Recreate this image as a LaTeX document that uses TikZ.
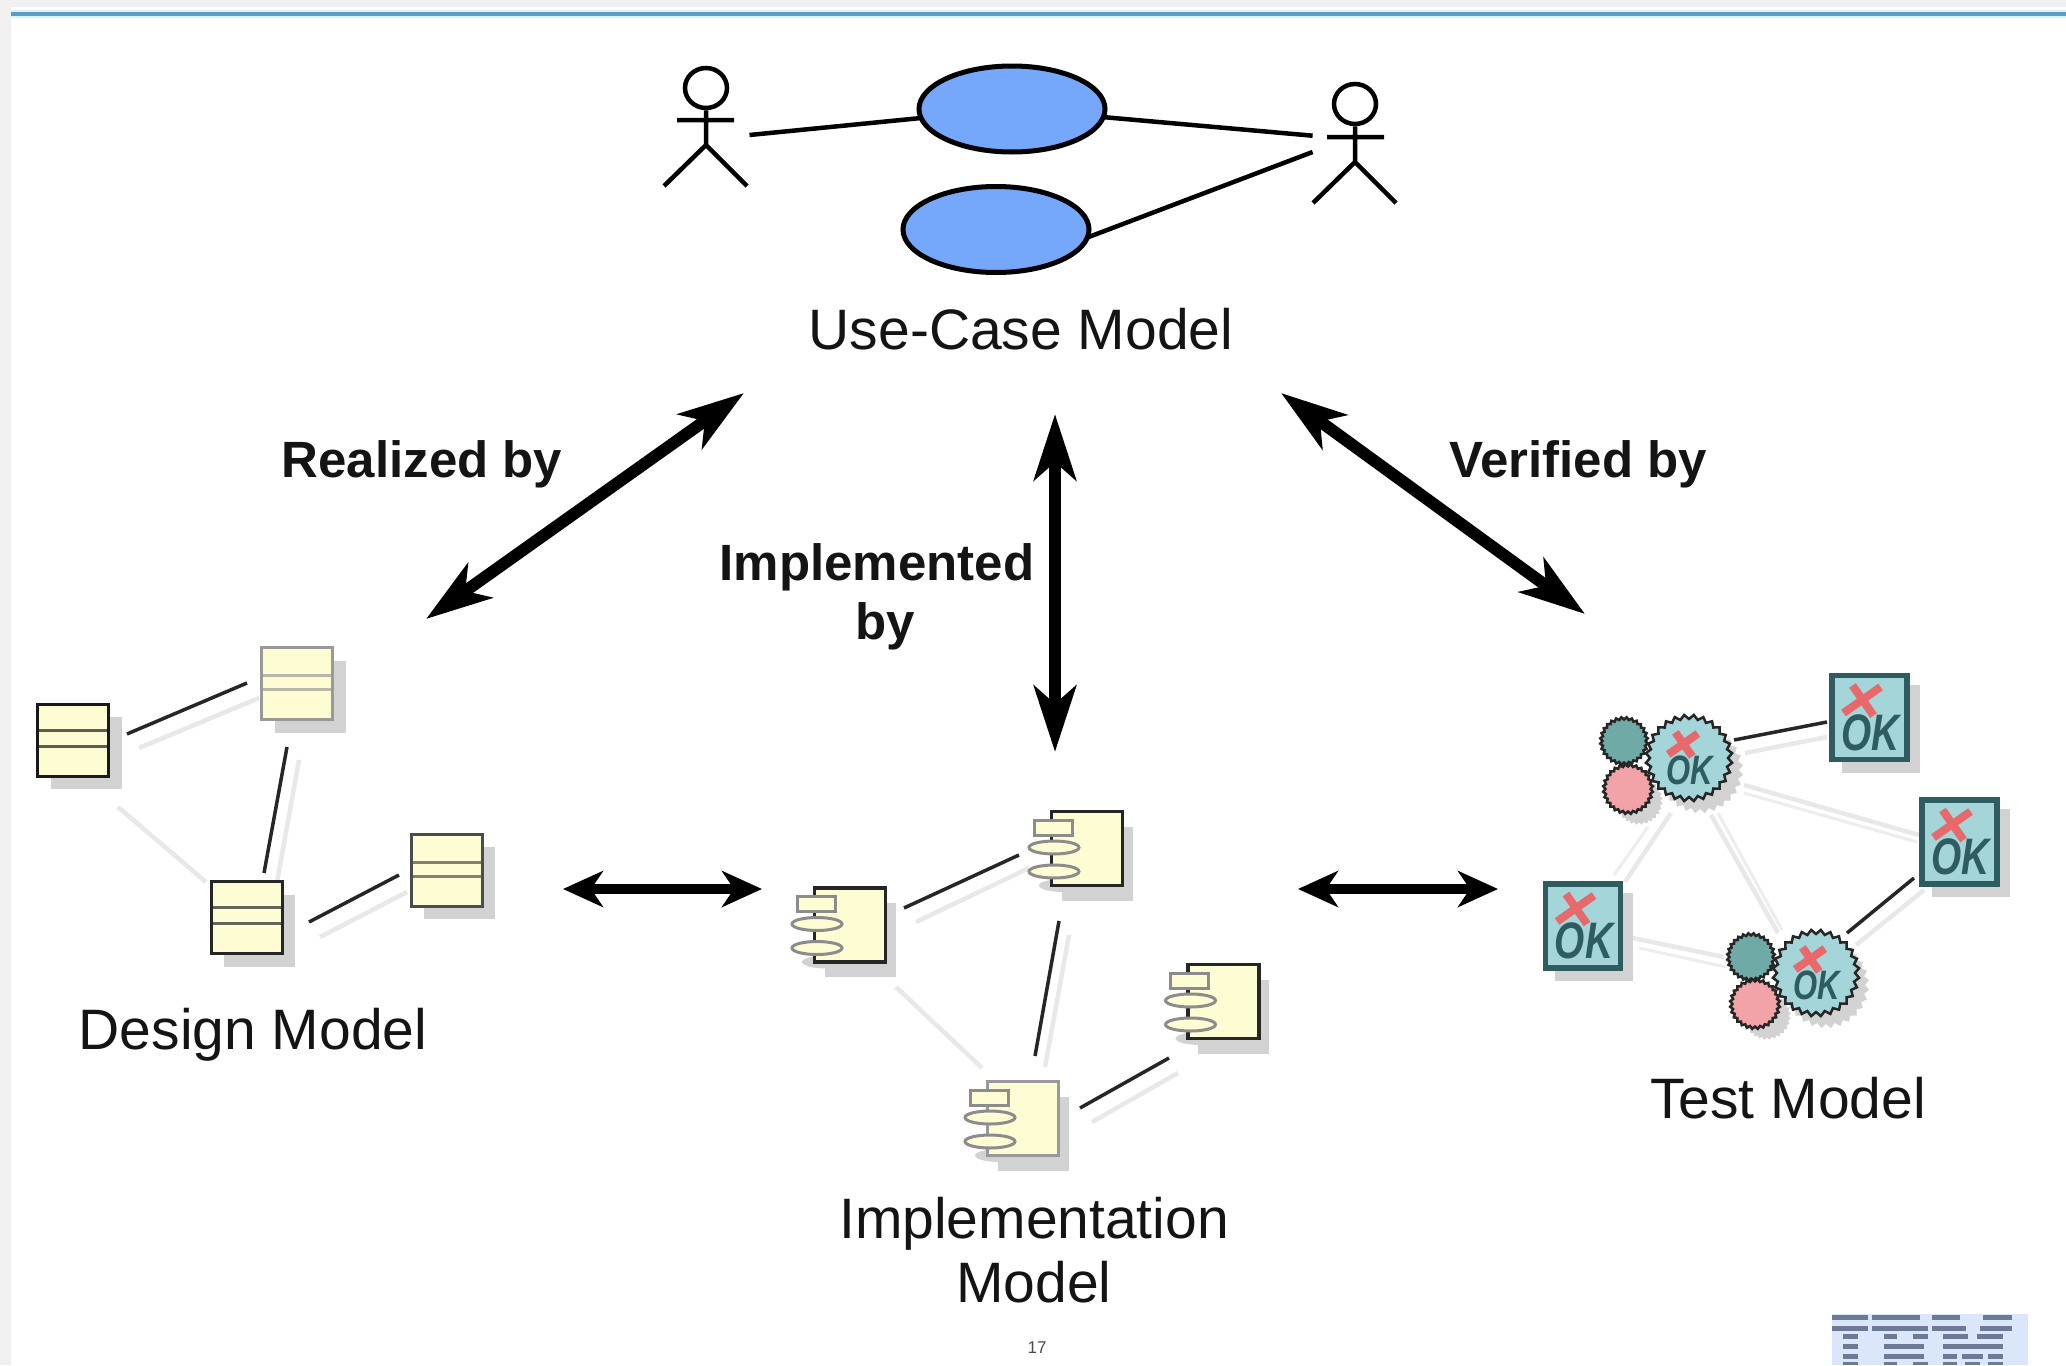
\documentclass[tikz,border=0pt]{standalone}
\usepackage{fontspec}
\setmainfont{Liberation Sans}
\usetikzlibrary{arrows.meta,shapes.geometric}
\definecolor{txt}{HTML}{141414}
\definecolor{usecase}{HTML}{75A7FB}
\definecolor{cream}{HTML}{FDFCD2}
\definecolor{shadowc}{HTML}{D2D2D2}
\definecolor{pale}{HTML}{E8E8E8}
\definecolor{testblue}{HTML}{A3D5D9}
\definecolor{testdark}{HTML}{2F5C60}
\definecolor{testteal}{HTML}{6FAAA6}
\definecolor{testpink}{HTML}{F2A3A8}
\definecolor{testred}{HTML}{E8696B}
\definecolor{ibmbar}{HTML}{6D7A96}
\definecolor{ibmbg}{HTML}{DBE6FB}
\tikzset{
  x=1pt,y=-1pt,
  stickline/.style={draw=black,line width=4.5pt},
  usecasenode/.style={ellipse,draw=black,fill=usecase,line width=5pt,minimum width=186pt,minimum height=86pt,inner sep=0pt,outer sep=0pt},
  assoc/.style={draw=black,line width=4.5pt},
  bigarrow/.style={line width=12pt,{Stealth[length=66pt,width=42pt,inset=18pt]}-{Stealth[length=66pt,width=42pt,inset=18pt]}},
  hugarrow/.style={line width=10pt,{Stealth[length=40pt,width=36pt,inset=12pt]}-{Stealth[length=40pt,width=36pt,inset=12pt]}},
  boldlabel/.style={font=\fontsize{51}{59}\selectfont\bfseries,text=txt,align=center,inner sep=0pt},
  modellabel/.style={font=\fontsize{57}{64}\selectfont,text=txt,align=center,inner sep=0pt},
  classbox/.style={rectangle,fill=cream,line width=3pt,minimum width=71pt,minimum height=72pt,inner sep=0pt,outer sep=0pt},
  shadowbox/.style={rectangle,fill=shadowc,inner sep=0pt,outer sep=0pt},
  darklink/.style={draw=black!85,line width=3.5pt},
  palelink/.style={draw=pale,line width=4.5pt},
  palerlink/.style={draw=black!7,line width=3pt},
  compbox/.style={rectangle,fill=cream,line width=3.5pt,minimum width=71pt,minimum height=74pt,inner sep=0pt,outer sep=0pt},
  comptab/.style={rectangle,fill=cream,draw=black!45,line width=3pt,minimum width=38pt,minimum height=15pt,inner sep=0pt},
  compoval/.style={ellipse,fill=cream,draw=black!45,line width=3pt,minimum width=50pt,minimum height=13pt,inner sep=0pt},
  testbox/.style={rectangle,fill=testblue,draw=testdark,line width=5.5pt,minimum width=75pt,minimum height=84pt,inner sep=0pt},
  gear/.style={star,star points=28,star point ratio=.9,draw=black!85,line width=2.5pt,inner sep=0pt,minimum size=#1},
  gearshadow/.style={star,star points=28,star point ratio=.9,fill=shadowc,inner sep=0pt,minimum size=#1},
  okmark/.style={font=\fontsize{38}{38}\selectfont\bfseries\itshape,text=testdark,inner sep=0pt},
  crossmark/.style={draw=testred,line width=8pt},
}
\newcommand\link[4][darklink]{\coordinate (#2-a) at (#3);\coordinate (#2-b) at (#4);\draw[#1] (#2-a) -- (#2-b);}
\newcommand\umlclass[6]{%
  \node[shadowbox,minimum width=71pt,minimum height=72pt] (#1-s) at (#2+13,#3+13) {};
  \node[classbox,draw=#6] (#1) at (#2,#3) {};
  \draw[draw=#6,opacity=.7,line width=3pt] (#1.west |- 0,#4) -- (#1.east |- 0,#4);
  \draw[draw=#6,opacity=.7,line width=3pt] (#1.west |- 0,#5) -- (#1.east |- 0,#5);
}
\newcommand\umlcomp[4]{%
  \node[shadowbox,minimum width=71pt,minimum height=74pt] (#1-s) at (#2+10,#3+15) {};
  \node[ellipse,fill=shadowc,minimum width=50pt,minimum height=13pt,inner sep=0pt] (#1-so) at (#2-23,#3+37) {};
  \node[compbox,draw=#4] (#1) at (#2,#3) {};
  \node[comptab] (#1-t) at (#2-34,#3-21) {};
  \node[compoval] (#1-o1) at (#2-33,#3-1) {};
  \node[compoval] (#1-o2) at (#2-33,#3+23) {};
}
\newcommand\testmarks[4]{%
  \begin{scope}[shift={(#2,#3)},scale=#4,transform shape]
    \draw[crossmark] (-26,-4.5) -- (11,-30.5);
    \draw[crossmark] (-17,-32) -- (4,-2);
    \node[okmark] (#1-ok) at (1,15) {\scalebox{1.02}[1.35]{OK}};
  \end{scope}
}
\begin{document}
\begin{tikzpicture}
\useasboundingbox (0,0) rectangle (2066,1365);
% page background
\fill[white] (0,0) rectangle (2066,1365);
\fill[black!6] (0,0) rectangle (11,1365);
\fill[black!6] (0,0) rectangle (2066,7);
\draw[draw=blue!30!cyan!15,line width=8pt] (11,14) -- (2066,14);
\draw[draw={rgb,255:red,93;green,156;blue,196},line width=3.5pt] (11,14) -- (2066,14);

% use-case model
\node[usecasenode] (uc1) at (1012,109) {};
\node[usecasenode] (uc2) at (996,229.5) {};
\node[ellipse,draw=black,line width=4.5pt,minimum width=42pt,minimum height=40pt,inner sep=0pt] (h1) at (706,88) {};
\coordinate (hip1) at (706,145);
\coordinate (arm1a) at (677,120); \coordinate (arm1b) at (734,120);
\coordinate (foot1a) at (664,186); \coordinate (foot1b) at (747,186);
\draw[stickline] (h1) -- (hip1) (arm1a) -- (arm1b) (foot1a) -- (hip1) -- (foot1b);
\node[ellipse,draw=black,line width=4.5pt,minimum width=42pt,minimum height=40pt,inner sep=0pt] (h2) at (1355,104) {};
\coordinate (hip2) at (1355,162);
\coordinate (arm2a) at (1327,137); \coordinate (arm2b) at (1384,137);
\coordinate (foot2a) at (1313,203); \coordinate (foot2b) at (1396,203);
\draw[stickline] (h2) -- (hip2) (arm2a) -- (arm2b) (foot2a) -- (hip2) -- (foot2b);
\coordinate (act1) at (749.5,135);
\coordinate (act2a) at (1312.6,135.7);
\coordinate (act2b) at (1312.6,152);
\draw[assoc] (act1) -- (uc1);
\draw[assoc] (act2a) -- (uc1);
\draw[assoc] (act2b) -- (uc2.-5);
\node[modellabel] (ucl) at (1021,329) {Use-Case Model};

% big arrows
\coordinate (a1a) at (744,393); \coordinate (a1b) at (426,619);
\coordinate (a2a) at (1055,414); \coordinate (a2b) at (1055,752);
\coordinate (a3a) at (1281,393); \coordinate (a3b) at (1585,614);
\coordinate (a4a) at (563,889); \coordinate (a4b) at (762,889);
\coordinate (a5a) at (1298,889); \coordinate (a5b) at (1498,889);
\draw[bigarrow] (a1a) -- (a1b);
\draw[bigarrow] (a2a) -- (a2b);
\draw[bigarrow] (a3a) -- (a3b);
\draw[hugarrow] (a4a) -- (a4b);
\draw[hugarrow] (a5a) -- (a5b);
\node[boldlabel] (lr) at (422,464) {Realized by};
\node[boldlabel] (li) at (877,597) {Implemented\\\hspace*{16pt}by};
\node[boldlabel] (lv) at (1578,464) {Verified by};

% design model
\link[palelink]{dp1}{139,748}{259,698}
\link[palelink]{dp2}{299,760}{277,882}
\link[palelink]{dp3}{320,937}{407,892}
\link[palelink]{dp4}{118,807}{206,882}
\umlclass{c1}{73}{740}{730}{746}{black!90}
\umlclass{c2}{297}{683.5}{675}{689}{black!40}
\umlclass{c3}{246.5}{917.5}{907}{923}{black!85}
\umlclass{c4}{446.5}{870}{862}{876}{black!70}
\link{dd1}{127,734}{247,683}
\link{dd2}{287,747}{264,873}
\link{dd3}{309,922}{399,875}
\node[modellabel] (dl) at (253,1035) {Design Model};

% implementation model
\link[palelink]{ip1}{916,922}{1029,868}
\link[palelink]{ip2}{1069,935}{1045,1067}
\link[palelink]{ip3}{1092,1122}{1178,1073}
\link[palelink]{ip4}{896,987}{982,1068}
\umlcomp{k1}{850}{925}{black!85}
\umlcomp{k2}{1087}{848.5}{black!85}
\umlcomp{k3}{1223.5}{1001.5}{black!85}
\umlcomp{k4}{1023}{1118.5}{black!40}
\link{id1}{904,908}{1019,855}
\link{id2}{1059,921}{1035,1056}
\link{id3}{1080,1108}{1169,1058}
\node[modellabel] (il) at (1034,1250) {Implementation\\Model};

% test model
\link[palelink]{tp1}{1745,753}{1827,737}
\link[palelink]{tp2}{1744,785}{1919,835}
\link[palerlink]{tp3}{1744,793}{1917,842}
\link[palerlink]{tp4}{1614,875}{1648,827}
\link[palelink]{tp5}{1625,882}{1671,813}
\link[palelink]{tp6}{1711,815}{1778,933}
\link[palerlink]{tp7}{1718,813}{1782,930}
\link[palelink]{tp8}{1628,937}{1724,957}
\link[palerlink]{tp9}{1639,948}{1726,967}
\link[palelink]{tp10}{1924,890}{1856,945}
\foreach \nm/\cx/\cy in {t1/1869.5/717.5,t2/1959.5/842,t3/1583/926}{
  \node[shadowbox,minimum width=78pt,minimum height=88pt] (\nm-s) at (\cx+11,\cy+11) {};
}
\node[gearshadow=78pt] (g1-s) at (1700,770) {};
\node[gearshadow=43pt] (p1-s) at (1639,801) {};
\node[gearshadow=78pt] (g2-s) at (1826,985) {};
\node[gearshadow=43pt] (p2-s) at (1767,1016) {};
\node[testbox] (t1) at (1869.5,717.5) {};
\node[testbox] (t2) at (1959.5,842) {};
\node[testbox] (t3) at (1583,926) {};
\node[gear=43pt,fill=testteal] (q1) at (1624,741) {};
\node[gear=45pt,fill=testpink] (p1) at (1628,789) {};
\node[gear=78pt,fill=testblue] (g1) at (1689,758) {};
\node[gear=43pt,fill=testteal] (q2) at (1751,957) {};
\node[gear=45pt,fill=testpink] (p2) at (1755,1004) {};
\node[gear=78pt,fill=testblue] (g2) at (1816,973) {};
\testmarks{t1m}{1869.5}{717.5}{1}
\testmarks{t2m}{1959.5}{842}{1}
\testmarks{t3m}{1583}{926}{1}
\testmarks{g1m}{1689}{758}{.8}
\testmarks{g2m}{1816}{973}{.8}
\link{td1}{1734,740}{1827,722}
\link{td2}{1914,878}{1847,933}
\node[modellabel] (tl) at (1788,1098) {Test Model};

% page number and logo
\node[font=\fontsize{17}{17}\selectfont,text=black!70,inner sep=0pt] (pg) at (1037,1348) {17};
\fill[ibmbg] (1832,1314) rectangle (2028,1365);
\foreach \row/\segs in {
  172/{395/505,517/660,697/780,850/935},
  205/{395/505,517/685,697/797,840/935},
  230/{430/473,552/592,638/685,730/805,830/908},
  258/{430/473,552/672,730/908},
  288/{430/473,552/672,730/770,785/850,865/908},
  312/{430/473,552/592,638/685,730/770,795/840,865/908}}{
  \foreach \xa/\xb in \segs {
    \fill[ibmbar] ({1700+\xa/3},{1260+\row/3-2.5}) rectangle ({1700+\xb/3},{min(1365,1260+\row/3+2.5)});
  }
}
\end{tikzpicture}
\end{document}
